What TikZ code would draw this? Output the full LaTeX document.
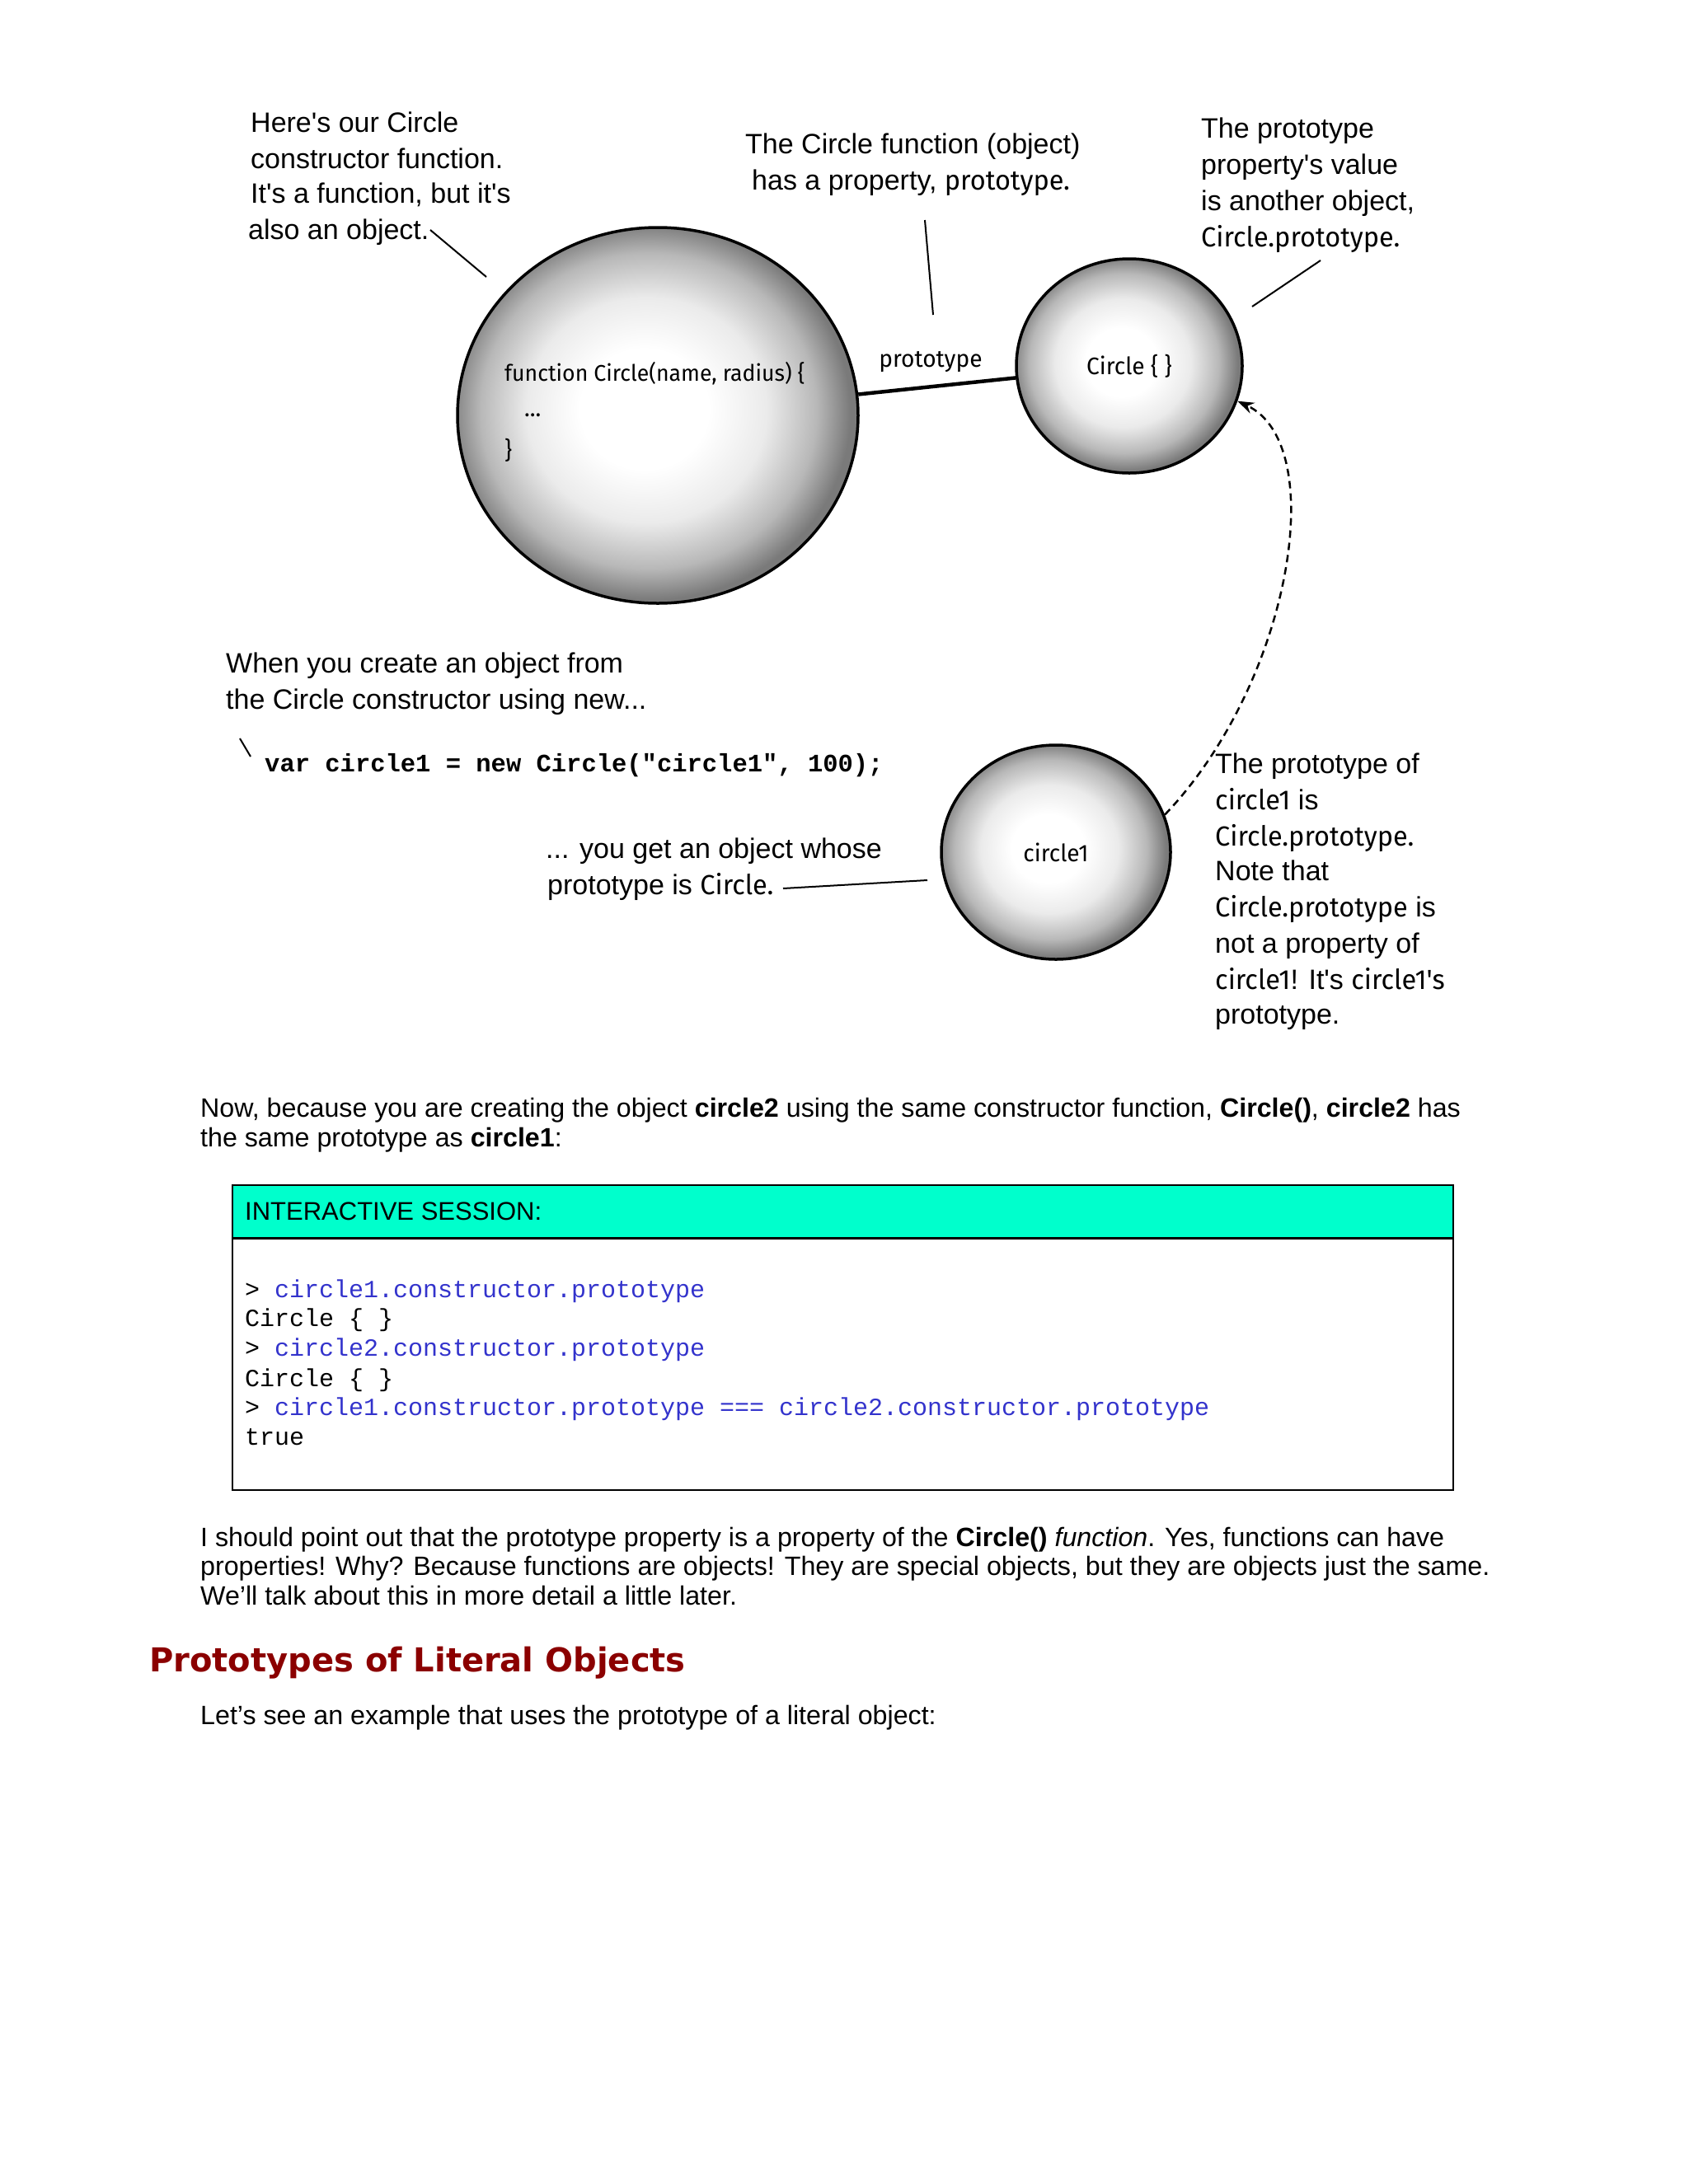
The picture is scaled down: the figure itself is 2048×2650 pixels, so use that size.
\documentclass[tikz,border=0pt]{standalone}
\usepackage{fontspec}
\setmainfont{Liberation Sans}
\setmonofont{Liberation Mono}
\newfontfamily\hand{Liberation Sans}
\newfontfamily\comic[FakeStretch=0.97]{Fira Sans}
\newfontfamily\headfont{DejaVu Sans}
\usetikzlibrary{shapes.geometric,arrows.meta}
\pgfdeclareradialshading{orb}{\pgfpoint{-2bp}{1bp}}{color(0bp)=(white); color(8bp)=(white); color(15bp)=(black!8); color(21bp)=(black!28); color(25bp)=(black!52); color(50bp)=(black!52)}
\newcommand\cmw[1]{{\comic\fontsize{33.5}{43}\selectfont #1}}
\definecolor{sesscyan}{RGB}{0,255,204}
\definecolor{codeblue}{RGB}{51,51,204}
\definecolor{headred}{RGB}{139,0,0}
\tikzset{
  orb/.style={ellipse, draw, line width=3.5pt, shading=orb, inner sep=0pt, font=\comic\fontsize{29}{34}\selectfont},
  hand/.style={font=\hand\fontsize{34}{43}\selectfont, anchor=base west, inner sep=0pt},
  lbl/.style={font=\comic\fontsize{29}{34}\selectfont, inner sep=0pt},
  body/.style={font=\fontsize{32.2}{38}\selectfont, anchor=base west, inner sep=0pt},
  code/.style={font=\ttfamily\fontsize{30}{36}\selectfont, anchor=base west, inner sep=0pt},
  leader/.style={line width=2pt},
}
\begin{document}
\begin{tikzpicture}[x=1pt,y=-1pt]
\useasboundingbox (0,0) rectangle (2048,2650);
\fill[white] (0,0) rectangle (2048,2650);

% circles
\node[orb, minimum width=486pt, minimum height=456pt] (big) at (798,504) {};
\node[orb, minimum width=274pt, minimum height=260pt] (cp) at (1370,444) {Circle \{ \}};
\node[orb, minimum width=278pt, minimum height=260pt] (c1) at (1281,1034) {circle1};

% text inside big circle
\node[lbl, anchor=base west, font=\comic\fontsize{27.5}{34}\selectfont] (f1) at (612,462) {function Circle(name, radius) \{};
\node[lbl, anchor=base west] (f2) at (636,505) {...};
\node[lbl, anchor=base west] (f3) at (612,556) {\}};

% prototype link
\draw[line width=4.5pt] (big) -- (cp);
\node[lbl] (plabel) at (1129,439) {prototype};

% dashed prototype arrow
\draw[dash pattern=on 9pt off 6pt, line width=2.5pt, -{Stealth[length=20pt,width=14pt]}]
  (c1.19) .. controls (1565,830) and (1615,540) .. (cp.-18);

% annotation 1
\node[hand] (a1a) at (304,160) {Here's our Circle};
\node[hand] (a1b) at (304,204) {constructor function.};
\node[hand] (a1c) at (304,246) {It's a function, but it's};
\node[hand] (a1d) at (301,290) {also an object.};
\coordinate (l1a) at (522,279);
\coordinate (l1b) at (590,336);
\draw[leader] (l1a) -- (l1b);

% annotation 2
\node[hand] (a2a) at (904,186) {The Circle function (object)};
\node[hand] (a2b) at (912,230) {has a property, \cmw{prototype.}};
\coordinate (l2a) at (1122,267);
\coordinate (l2b) at (1132,382);
\draw[leader] (l2a) -- (l2b);

% annotation 3
\node[hand] (a3a) at (1457,167) {The prototype};
\node[hand] (a3b) at (1457,211) {property's value};
\node[hand] (a3c) at (1457,255) {is another object,};
\node[hand] (a3d) at (1457,299) {\cmw{Circle.prototype.}};
\coordinate (l3a) at (1602,316);
\coordinate (l3b) at (1519,372);
\draw[leader] (l3a) -- (l3b);

% annotation 4
\node[hand] (a4a) at (274,816) {When you create an object from};
\node[hand] (a4b) at (274,860) {the Circle constructor using new...};
\coordinate (l4a) at (291,896);
\coordinate (l4b) at (304,918);
\draw[leader] (l4a) -- (l4b);
\node[code, font=\ttfamily\bfseries\fontsize{30.5}{36}\selectfont] (newline) at (321,936) {var circle1 = new Circle("circle1", 100);};

% annotation 5
\node[hand] (a5a) at (662,1041) {... you get an object whose};
\node[hand] (a5b) at (664,1085) {prototype is \cmw{Circle.}};
\coordinate (l5a) at (950,1078);
\coordinate (l5b) at (1125,1068);
\draw[leader] (l5a) -- (l5b);

% annotation 6
\node[hand] (a6a) at (1474,938) {The prototype of};
\node[hand] (a6b) at (1474,982) {\cmw{circle1} is};
\node[hand] (a6c) at (1474,1026) {\cmw{Circle.prototype.}};
\node[hand] (a6d) at (1474,1068) {Note that};
\node[hand] (a6e) at (1474,1112) {\cmw{Circle.prototype} is};
\node[hand] (a6f) at (1474,1156) {not a property of};
\node[hand] (a6g) at (1474,1200) {\cmw{circle1}! It's \cmw{circle1's}};
\node[hand] (a6h) at (1474,1242) {prototype.};

% paragraph 1
\node[body] (p1a) at (243,1355) {Now, because you are creating the object \textbf{circle2} using the same constructor function, \textbf{Circle()}, \textbf{circle2} has};
\node[body] (p1b) at (243,1391) {the same prototype as \textbf{circle1}:};

% interactive session box
\fill[sesscyan] (282,1438) rectangle (1763,1502);
\draw[line width=3pt] (282,1502) -- (1763,1502);
\draw[line width=2.5pt] (282,1438) rectangle (1763,1808);
\node[body, font=\fontsize{31}{36}\selectfont] (sess) at (297,1480) {INTERACTIVE SESSION:};
\node[code] (s1) at (297,1574) {> \textcolor{codeblue}{circle1.constructor.prototype}};
\node[code] (s2) at (297,1609) {Circle \{ \}};
\node[code] (s3) at (297,1645) {> \textcolor{codeblue}{circle2.constructor.prototype}};
\node[code] (s4) at (297,1682) {Circle \{ \}};
\node[code] (s5) at (297,1717) {> \textcolor{codeblue}{circle1.constructor.prototype === circle2.constructor.prototype}};
\node[code] (s6) at (297,1753) {true};

% paragraph 2
\node[body] (p2a) at (243,1876) {I should point out that the prototype property is a property of the \textbf{Circle()} \textit{function}. Yes, functions can have};
\node[body] (p2b) at (243,1911) {properties! Why? Because functions are objects! They are special objects, but they are objects just the same.};
\node[body] (p2c) at (243,1947) {We'll talk about this in more detail a little later.};

% heading
\node[anchor=base west, inner sep=0pt, font=\headfont\bfseries\fontsize{40}{46}\selectfont, text=headred] (head) at (181,2028) {Prototypes of Literal Objects};

% paragraph 3
\node[body] (p3) at (243,2092) {Let's see an example that uses the prototype of a literal object:};
\end{tikzpicture}
\end{document}
